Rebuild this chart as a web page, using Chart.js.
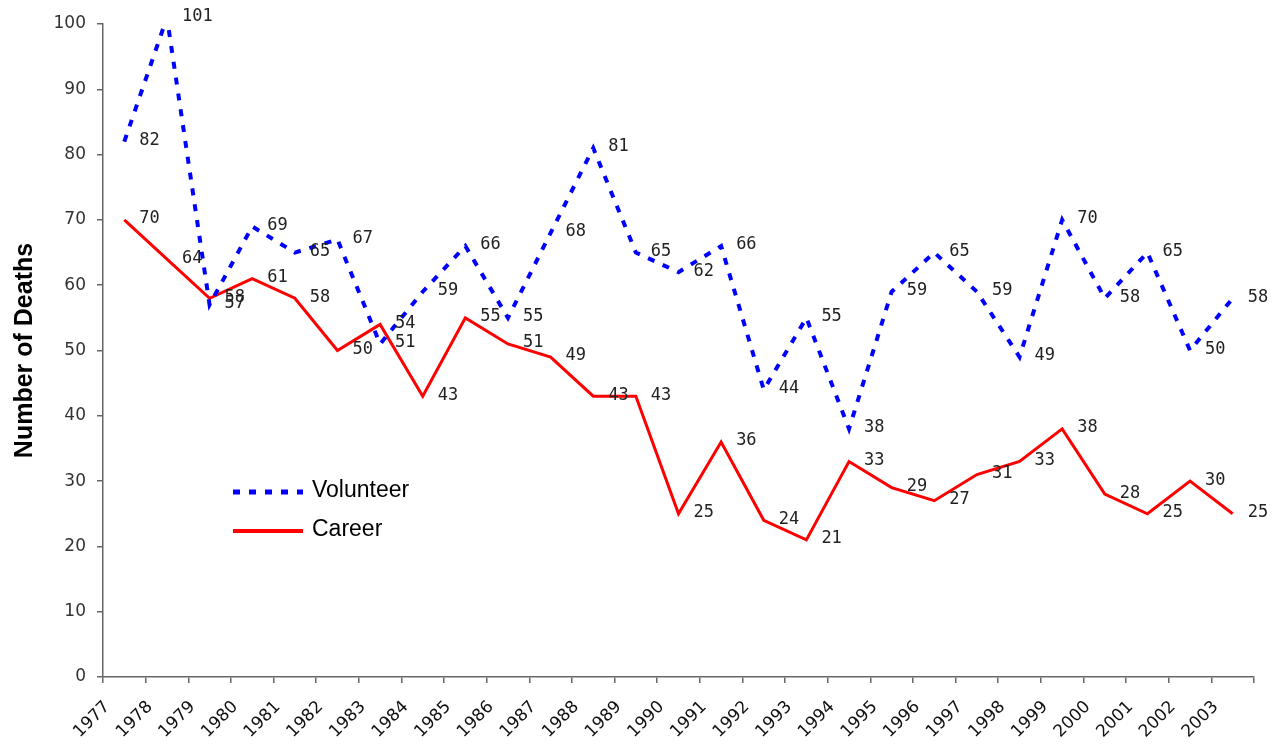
<!DOCTYPE html>
<html>
<head>
<meta charset="utf-8">
<script src="https://cdn.jsdelivr.net/npm/chart.js@4/dist/chart.umd.min.js"></script>
<style>
  html, body { margin: 0; padding: 0; background: #fff; }
  #wrap { width: 1274px; height: 748px; }
</style>
</head>
<body>
<div id="wrap"><canvas id="myChart" width="1274" height="748"></canvas></div>
<script>
var years = ["1977", "1978", "1979", "1980", "1981", "1982", "1983", "1984", "1985", "1986",
    "1987", "1988", "1989", "1990", "1991", "1992", "1993", "1994", "1995", "1996",
    "1997", "1998", "1999", "2000", "2001", "2002", "2003"];
var volunteer = [82, 101, 57, 69, 65, 67, 51, 59, 66, 55, 68, 81, 65, 62, 66, 44, 55, 38, 59, 65, 59, 49, 70, 58, 65, 50, 58];
var career = [70, 64, 58, 61, 58, 50, 54, 43, 55, 51, 49, 43, 43, 25, 36, 24, 21, 33, 29, 27, 31, 33, 38, 28, 25, 30, 25];
var yTicks = [0, 10, 20, 30, 40, 50, 60, 70, 80, 90, 100];

// value labels next to every point
var valueLabels = {
    id: 'valueLabels',
    afterDatasetsDraw: function (chart) {
        var ctx = chart.ctx;
        ctx.save();
        ctx.font = '17px "DejaVu Sans Mono"';
        ctx.fillStyle = '#222';
        ctx.textAlign = 'left';
        ctx.textBaseline = 'middle';
        chart.data.datasets.forEach(function (ds, i) {
            chart.getDatasetMeta(i).data.forEach(function (pt, j) {
                ctx.fillText(ds.data[j], pt.x + 15, pt.y - 1);
            });
        });
        ctx.restore();
    }
};

// legend inside the plot
var innerLegend = {
    id: 'innerLegend',
    afterDraw: function (chart) {
        var ctx = chart.ctx;
        var x0 = chart.chartArea.left + 130;
        var y0 = chart.chartArea.top + 468;
        ctx.save();
        ctx.font = '23px "Liberation Sans"';
        ctx.textBaseline = 'middle';
        ctx.fillStyle = '#000';
        chart.data.datasets.forEach(function (ds, i) {
            var y = y0 + i * 39;
            ctx.beginPath();
            ctx.strokeStyle = ds.borderColor;
            ctx.lineWidth = ds.borderWidth + 1;
            ctx.setLineDash(ds.borderDash || []);
            ctx.moveTo(x0, y);
            ctx.lineTo(x0 + 70, y);
            ctx.stroke();
            ctx.setLineDash([]);
            ctx.fillText(ds.label, x0 + 79, y - 1);
        });
        ctx.restore();
    }
};

var ctx = document.getElementById("myChart").getContext('2d');

var myChart = new Chart(ctx, {
    type: 'line',
    data: {
        labels: years,
        datasets: [{
            label: 'Volunteer',
            data: volunteer,
            borderColor: '#0000ff',
            borderWidth: 4,
            borderDash: [7, 9],
            pointRadius: 0,
            fill: false
        }, {
            label: 'Career',
            data: career,
            borderColor: '#ff0000',
            borderWidth: 3,
            pointRadius: 0,
            fill: false
        }]
    },
    options: {
        responsive: false,
        animation: false,
        layout: { padding: { left: 0, right: 20, top: 24, bottom: 0 } },
        plugins: {
            legend: { display: false },
            tooltip: { enabled: false }
        },
        scales: {
            x: {
                offset: true,
                grid: { offset: true, drawOnChartArea: false, drawTicks: true, tickLength: 6, color: '#666', lineWidth: 1.5 },
                border: { color: '#666', width: 1.5 },
                ticks: {
                    minRotation: 45, maxRotation: 45, autoSkip: false,
                    font: { family: 'DejaVu Sans', size: 17 }, color: '#111',
                    labelOffset: -17, padding: 14
                },
                afterFit: function (s) { s.height = 71; }
            },
            y: {
                min: 0, max: 100,
                afterBuildTicks: function (s) { s.ticks = yTicks.map(function (v) { return { value: v }; }); },
                grid: { drawOnChartArea: false, drawTicks: true, tickLength: 6, color: '#666', lineWidth: 1.5 },
                border: { color: '#666', width: 1.5 },
                ticks: { font: { family: 'DejaVu Sans', size: 17 }, color: '#333', padding: 11 },
                title: {
                    display: true, text: 'Number of Deaths',
                    font: { family: 'Liberation Sans', size: 25, weight: 'bold' }, color: '#000',
                    padding: { top: 10, bottom: 0 }
                },
                afterFit: function (s) { s.width = 103; }
            }
        }
    },
    plugins: [valueLabels, innerLegend]
});
</script>
</body>
</html>
